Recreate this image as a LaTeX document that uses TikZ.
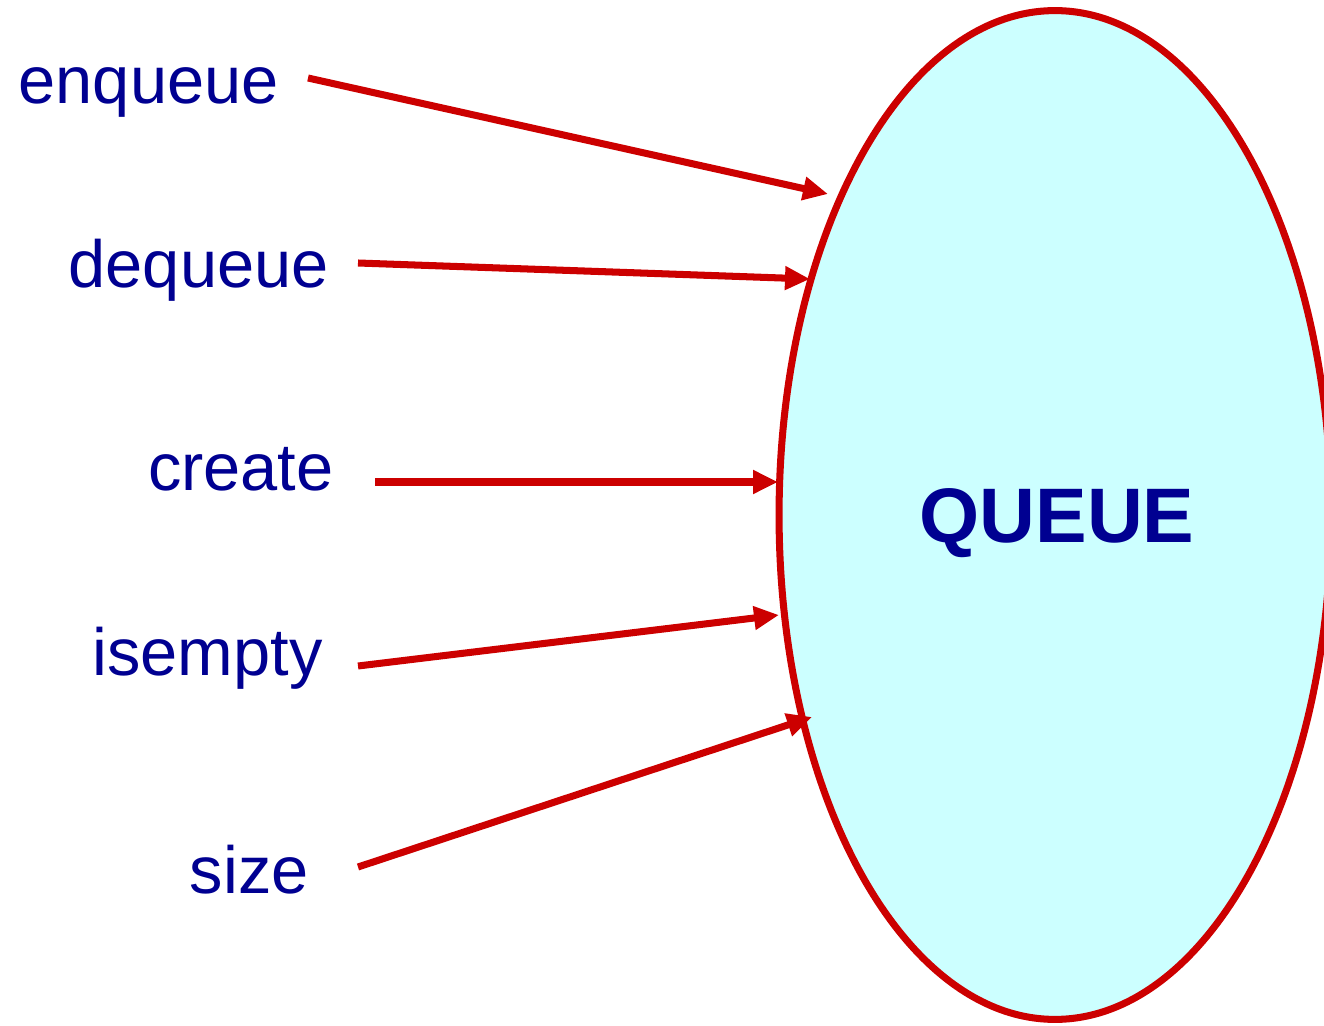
\documentclass[tikz,border=0pt]{standalone}
\usepackage{fontspec}
\setmainfont{Liberation Sans}
\usetikzlibrary{shapes.geometric,arrows.meta}
\definecolor{opred}{RGB}{204,0,0}
\definecolor{opblue}{RGB}{0,0,145}
\definecolor{qfill}{RGB}{204,255,255}

\begin{document}
\begin{tikzpicture}[x=0.02cm,y=-0.02cm,
  op/.style={anchor=base east,inner sep=0pt,text=opblue,font=\fontsize{38}{46}\selectfont},
  call/.style={draw=opred,line width=4pt,-{Triangle[length=0.5cm,width=0.45cm]}}]
\useasboundingbox (0,0) rectangle (1324,1026);

\node[ellipse,draw=opred,fill=qfill,line width=4pt,minimum width=11.04cm,minimum height=20.18cm] (queue) at (1055,515) {};
\node[text=opblue,font=\bfseries\fontsize{44}{52}\selectfont] (qname) at (1057,523) {QUEUE};

\node[op] (enq) at (279,104) {enqueue};
\node[op] (deq) at (329,288) {dequeue};
\node[op] (cre) at (334,491) {create};
\node[op] (ise) at (323,675) {isempty};
\node[op] (siz) at (309,893) {size};

\coordinate (enq-a) at (308,78);
\coordinate (enq-b) at (828,194);
\coordinate (deq-a) at (358,263);
\coordinate (deq-b) at (810,279);
\coordinate (cre-a) at (375,482);
\coordinate (cre-b) at (778,482);
\coordinate (ise-a) at (358,666);
\coordinate (ise-b) at (779,615);
\coordinate (siz-a) at (358,867);
\coordinate (siz-b) at (812,717);

\draw[call] (enq-a) -- (enq-b);
\draw[call] (deq-a) -- (deq-b);
\draw[call] (cre-a) -- (cre-b);
\draw[call] (ise-a) -- (ise-b);
\draw[call] (siz-a) -- (siz-b);
\end{tikzpicture}
\end{document}
